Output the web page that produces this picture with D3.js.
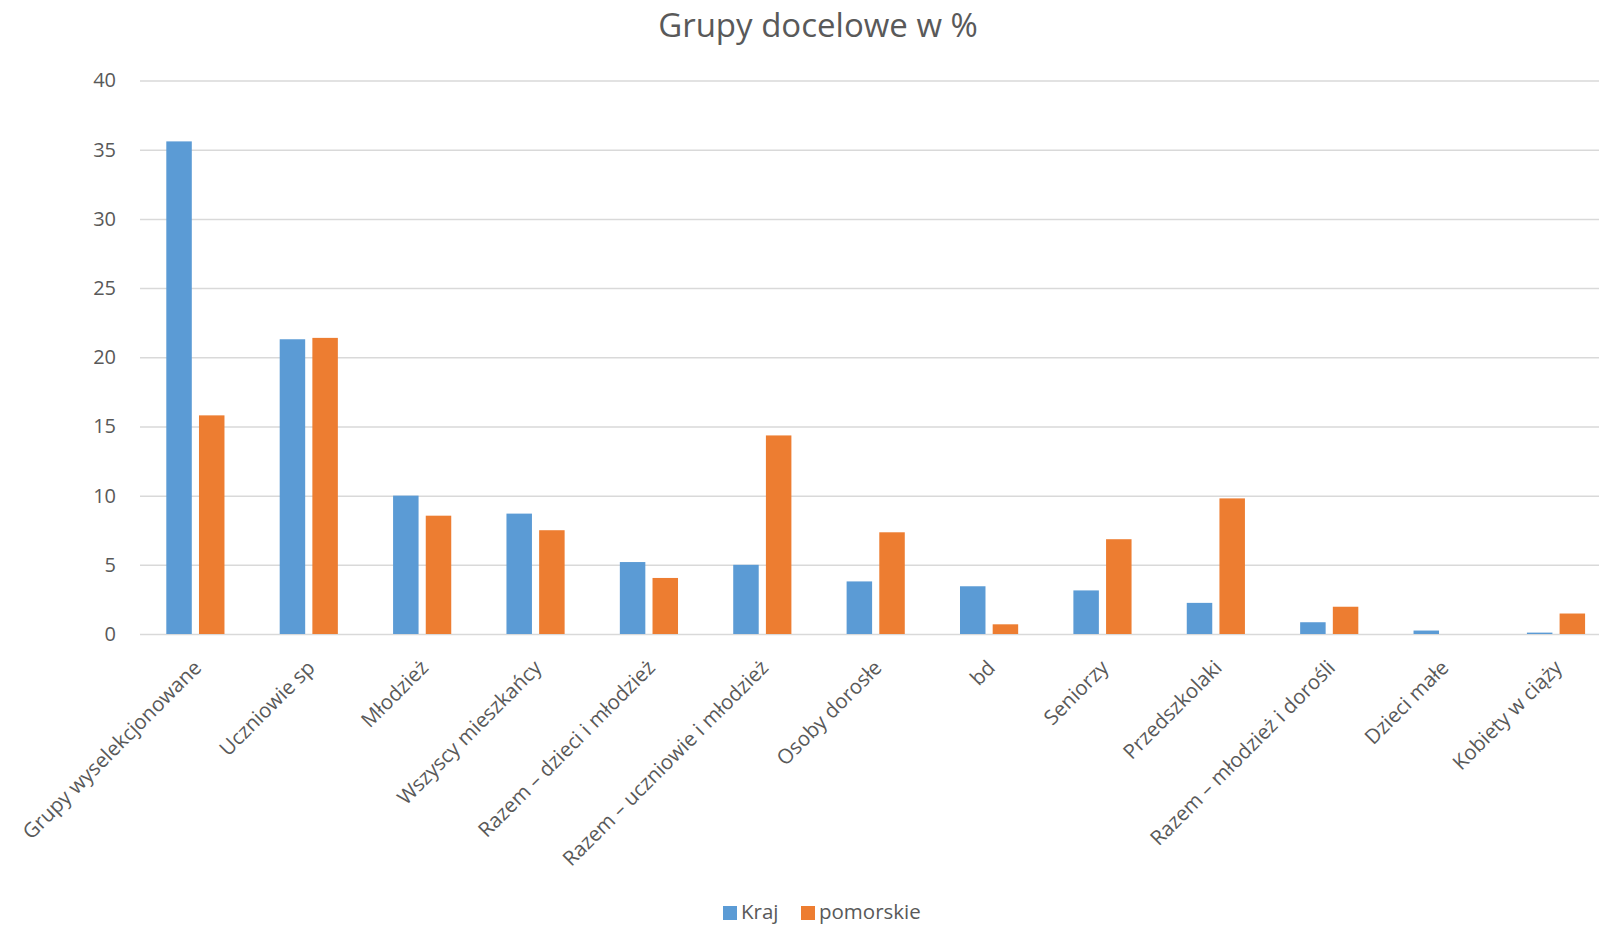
<!DOCTYPE html>
<html>
<head>
<meta charset="utf-8">
<script src="https://cdn.jsdelivr.net/npm/d3@7"></script>
<style>
  body { margin: 0; background: #fff; }
  svg text { font-family: "Open Sans", sans-serif; fill: #595959; }
</style>
</head>
<body>
<svg id="chart" width="1599" height="927"></svg>
<script>
const categories = [
  "Grupy wyselekcjonowane", "Uczniowie sp", "Młodzież", "Wszyscy mieszkańcy",
  "Razem – dzieci i młodzież", "Razem – uczniowie i młodzież", "Osoby dorosłe",
  "bd", "Seniorzy", "Przedszkolaki", "Razem – młodzież i dorośli",
  "Dzieci małe", "Kobiety w ciąży"
];
const kraj = [35.6, 21.3, 10.0, 8.7, 5.2, 5.0, 3.8, 3.45, 3.15, 2.25, 0.85, 0.25, 0.1];
const pomorskie = [15.8, 21.4, 8.55, 7.5, 4.05, 14.35, 7.35, 0.7, 6.85, 9.8, 1.97, 0, 1.48];
const seriesNames = ["Kraj", "pomorskie"];
const seriesColors = ["#5B9BD5", "#ED7D31"];
const yTicks = [0, 5, 10, 15, 20, 25, 30, 35, 40];

const svg = d3.select("#chart");
// the chart runs a little past the right edge of the picture
const plotLeft = 140, plotRight = 1614, plotTop = 80.5, plotBottom = 634;
const gridRight = 1599;

const x = d3.scaleBand()
  .domain(categories)
  .range([plotLeft, plotRight]);

const xInner = d3.scaleBand()
  .domain(seriesNames)
  .range([x.bandwidth() * 0.232, x.bandwidth() * 0.745])
  .paddingInner(0.22);

const y = d3.scaleLinear()
  .domain([0, 40])
  .range([plotBottom, plotTop]);

const color = d3.scaleOrdinal().domain(seriesNames).range(seriesColors);

// gridlines
svg.append("g")
  .attr("transform", `translate(${plotLeft},0)`)
  .call(d3.axisLeft(y).tickValues(yTicks).tickSize(-(gridRight - plotLeft)).tickFormat(""))
  .call(g => g.select(".domain").remove())
  .call(g => g.selectAll("line").attr("stroke", "#D9D9D9").attr("stroke-width", 1.5));

// y labels
svg.append("g")
  .attr("transform", `translate(${plotLeft},0)`)
  .call(d3.axisLeft(y).tickValues(yTicks).tickSize(0).tickPadding(24))
  .call(g => g.select(".domain").remove())
  .call(g => g.selectAll("text")
    .style("font-size", "20px")
    .style("font-family", "'Open Sans', sans-serif")
    .attr("fill", "#595959"));

// bars
const rows = categories.map((c, i) => ({ cat: c, vals: [
  { key: "Kraj", val: kraj[i] },
  { key: "pomorskie", val: pomorskie[i] }
]}));

const groups = svg.append("g").selectAll("g")
  .data(rows)
  .join("g")
  .attr("transform", d => `translate(${x(d.cat)},0)`);

groups.selectAll("rect")
  .data(d => d.vals.filter(v => v.val > 0))
  .join("rect")
  .attr("x", v => xInner(v.key))
  .attr("width", xInner.bandwidth())
  .attr("y", v => y(v.val))
  .attr("height", v => y(0) - y(v.val))
  .attr("fill", v => color(v.key));

// x labels
svg.append("g")
  .attr("transform", `translate(0,${plotBottom})`)
  .call(d3.axisBottom(x).tickSize(0))
  .call(g => g.select(".domain").remove())
  .call(g => g.selectAll("text")
    .attr("x", 0).attr("y", 0).attr("dy", 0)
    .attr("transform", "translate(6,35) rotate(-45)")
    .attr("text-anchor", "end")
    .style("font-size", "20.5px")
    .style("font-family", "'Open Sans', sans-serif")
    .attr("fill", "#595959"));

// title
svg.append("text")
  .attr("x", 818)
  .attr("y", 37)
  .attr("text-anchor", "middle")
  .style("font-size", "33px")
  .text("Grupy docelowe w %");

// legend
const legend = svg.append("g").attr("transform", "translate(723,906)");
const legendX = [0, 78];
const items = legend.selectAll("g")
  .data(seriesNames)
  .join("g")
  .attr("transform", (d, i) => `translate(${legendX[i]},0)`);
items.append("rect")
  .attr("width", 14).attr("height", 14)
  .attr("fill", d => color(d));
items.append("text")
  .attr("x", 18).attr("y", 13)
  .style("font-size", "20.5px")
  .text(d => d);
</script>
</body>
</html>
